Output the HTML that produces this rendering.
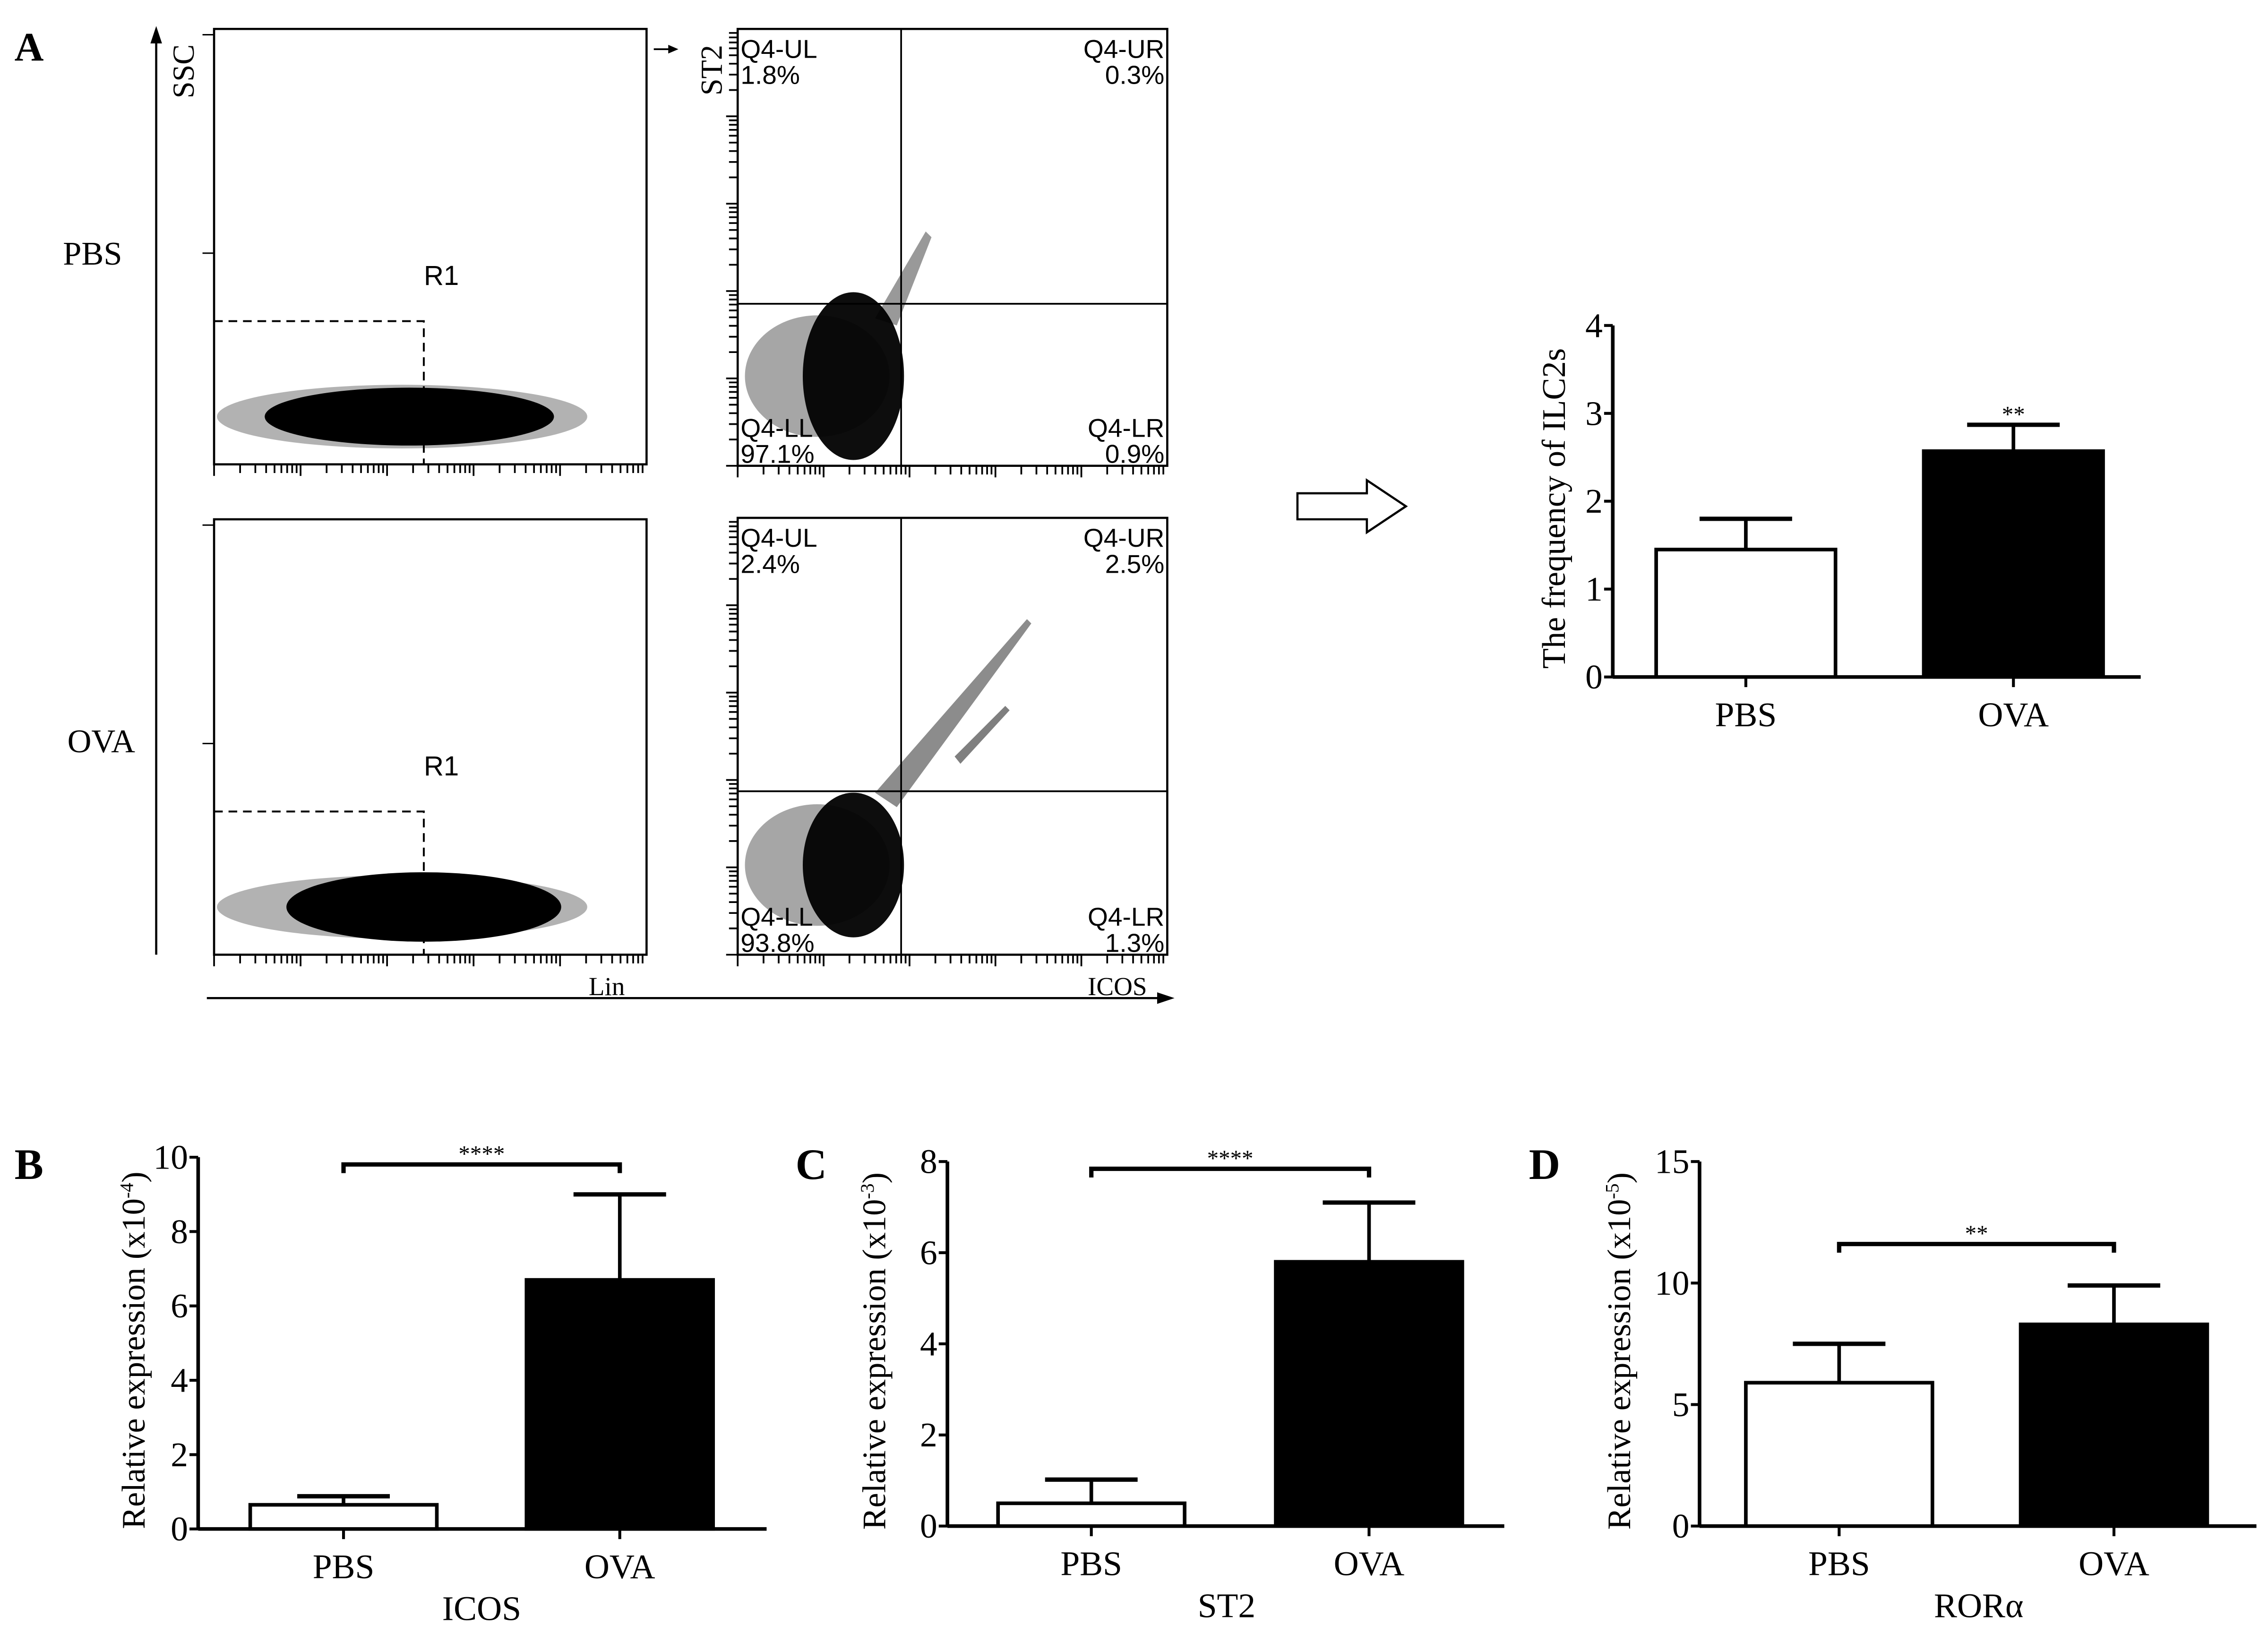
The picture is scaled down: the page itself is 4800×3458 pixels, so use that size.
<!DOCTYPE html>
<html><head><meta charset="utf-8"><style>
html,body{margin:0;padding:0;background:#fff;}
svg{display:block;}
text{font-family:"Liberation Serif",serif;fill:#000;}
.sans{font-family:"Liberation Sans",sans-serif;}
</style></head><body>
<svg id="fig" xmlns="http://www.w3.org/2000/svg" width="4800" height="3458" viewBox="0 0 1568 1129.6">
<rect width="1568" height="1129.6" fill="#fff"/>
<g id="panelA"></g>
<g id="charts"></g>
</svg>
<script>
// ---------- chart data ----------
const categories = ["PBS", "OVA"];
const ilcMeans = [1.45, 2.57];
const ilcErrors = [1.80, 2.87];
const icosMeans = [0.65, 6.7];
const icosErrors = [0.88, 9.0];
const st2Means = [0.5, 5.8];
const st2Errors = [1.02, 7.1];
const roraMeans = [5.9, 8.3];
const roraErrors = [7.5, 9.9];
const ilcTicks = [0, 1, 2, 3, 4];
const icosTicks = [0, 2, 4, 6, 8, 10];
const st2Ticks = [0, 2, 4, 6, 8];
const roraTicks = [0, 5, 10, 15];

const NS = "http://www.w3.org/2000/svg";
function mk(parent, tag, attrs, txt) {
  const e = document.createElementNS(NS, tag);
  for (const k in attrs) e.setAttribute(k, attrs[k]);
  if (txt !== undefined) e.textContent = txt;
  parent.appendChild(e);
  return e;
}
const A = document.getElementById('panelA');
const C = document.getElementById('charts');

// ---------- panel A ----------
let t;
t = mk(A, 'text', {x: 10, y: 42, 'font-size': 28, 'font-weight': 'bold'}, 'A');


t = mk(A, 'text', {x: 64, y: 183, 'font-size': 23, 'text-anchor': 'middle'}, 'PBS');


t = mk(A, 'text', {x: 70, y: 520, 'font-size': 23, 'text-anchor': 'middle'}, 'OVA');


// SSC axis
let l = mk(A, 'line', {x1: 108, y1: 660, x2: 108, y2: 22, stroke: '#000', 'stroke-width': 1.5});


mk(A, 'path', {d: 'M104,30 L108,18 L112,30 Z', fill: '#000'});
t = mk(A, 'text', {x: 0, y: 0, 'font-size': 21, transform: 'translate(134,68) rotate(-90)'}, 'SSC');


// Lin/ICOS axis
l = mk(A, 'line', {x1: 143, y1: 690, x2: 808, y2: 690, stroke: '#000', 'stroke-width': 1.5});


mk(A, 'path', {d: 'M800,686 L812,690 L800,694 Z', fill: '#000'});
t = mk(A, 'text', {x: 407, y: 688, 'font-size': 18}, 'Lin');


t = mk(A, 'text', {x: 752, y: 688, 'font-size': 18}, 'ICOS');


t = mk(A, 'text', {x: 0, y: 0, 'font-size': 21, transform: 'translate(499,66) rotate(-90)'}, 'ST2');


mk(A, 'line', {x1: 452, y1: 34, x2: 466, y2: 34, stroke: '#000', 'stroke-width': 1.2});
mk(A, 'path', {d: 'M462,31 L469,34 L462,37 Z', fill: '#000'});

function logTicks(g, x0, x1, y) {
  const dec = (x1 - x0) / 5;
  for (let d = 0; d < 5; d++) {
    for (let k = 1; k <= 9; k++) {
      const x = x0 + d * dec + Math.log10(k) * dec;
      mk(g, 'line', {x1: x, y1: y, x2: x, y2: y + (k === 1 ? 8 : 6), stroke: '#000', 'stroke-width': 1.2});
    }
  }
}
function yLogTicks(g, x, y0, y1) {
  const dec = (y1 - y0) / 5;
  for (let d = 0; d < 5; d++) {
    for (let k = 1; k <= 9; k++) {
      const y = y1 - d * dec - Math.log10(k) * dec;
      mk(g, 'line', {x1: x - (k === 1 ? 8 : 6), y1: y, x2: x, y2: y, stroke: '#000', 'stroke-width': 1.2});
    }
  }
}

function scatterPlot(x0, y0, name, ova) {
  const g = mk(A, 'g', {});
  
  
  const w = 299, h = 301;
  mk(g, 'rect', {x: x0, y: y0, width: w, height: h, fill: 'none', stroke: '#000', 'stroke-width': 1.5});
  logTicks(g, x0, x0 + w, y0 + h);
  mk(g, 'line', {x1: x0 - 8, y1: y0 + 155, x2: x0, y2: y0 + 155, stroke: '#000', 'stroke-width': 1});
  mk(g, 'line', {x1: x0 - 8, y1: y0 + 4, x2: x0, y2: y0 + 4, stroke: '#000', 'stroke-width': 1});
  // density blob
  mk(g, 'ellipse', {cx: x0 + 130, cy: y0 + 268, rx: 128, ry: 22, fill: '#000', opacity: 0.3});
  mk(g, 'ellipse', {cx: x0 + (ova ? 145 : 135), cy: y0 + 268, rx: ova ? 95 : 100, ry: ova ? 24 : 20, fill: '#000'});
  // gate
  mk(g, 'path', {d: `M${x0},${y0 + 202} L${x0 + 145},${y0 + 202} L${x0 + 145},${y0 + h}`, fill: 'none', stroke: '#000', 'stroke-width': 1.3, 'stroke-dasharray': '6,4'});
  const r = mk(g, 'text', {x: x0 + 145, y: y0 + 177, 'font-size': 19, class: 'sans'}, 'R1');
  
  
}
function quadPlot(x0, y0, name, labels, hy, ova) {
  const g = mk(A, 'g', {});
  
  
  const w = 297, h = 302;
  mk(g, 'rect', {x: x0, y: y0, width: w, height: h, fill: 'none', stroke: '#000', 'stroke-width': 1.5});
  logTicks(g, x0, x0 + w, y0 + h);
  yLogTicks(g, x0, y0, y0 + h);
  // blob
  mk(g, 'ellipse', {cx: x0 + 55, cy: y0 + 240, rx: 50, ry: 42, fill: '#000', opacity: 0.35});
  mk(g, 'ellipse', {cx: x0 + 80, cy: y0 + 240, rx: 35, ry: ova ? 50 : 58, fill: '#000', opacity: 0.95});
  if (ova) {
    mk(g, 'path', {d: `M${x0 + 95},${y0 + 190} L${x0 + 200},${y0 + 70} L${x0 + 203},${y0 + 73} L${x0 + 110},${y0 + 200} Z`, fill: '#000', opacity: 0.45});
    mk(g, 'path', {d: `M${x0 + 150},${y0 + 165} L${x0 + 185},${y0 + 130} L${x0 + 188},${y0 + 133} L${x0 + 154},${y0 + 170} Z`, fill: '#000', opacity: 0.5});
  } else {
    mk(g, 'path', {d: `M${x0 + 95},${y0 + 200} L${x0 + 130},${y0 + 140} L${x0 + 134},${y0 + 144} L${x0 + 110},${y0 + 205} Z`, fill: '#000', opacity: 0.4});
  }
  mk(g, 'line', {x1: x0 + 113, y1: y0, x2: x0 + 113, y2: y0 + h, stroke: '#000', 'stroke-width': 1.2});
  mk(g, 'line', {x1: x0, y1: y0 + hy, x2: x0 + w, y2: y0 + hy, stroke: '#000', 'stroke-width': 1.2});
  const pos = [[x0 + 2, y0 + 20, 'start'], [x0 + w - 2, y0 + 20, 'end'], [x0 + 2, y0 + 282, 'start'], [x0 + w - 2, y0 + 282, 'end']];
  const names = ['Q4-UL', 'Q4-UR', 'Q4-LL', 'Q4-LR'];
  for (let i = 0; i < 4; i++) {
    const tt = mk(g, 'text', {x: pos[i][0], y: pos[i][1], 'font-size': 18, class: 'sans', 'text-anchor': pos[i][2]}, names[i]);
    
    
    const tv = mk(g, 'text', {x: pos[i][0], y: pos[i][1] + 18, 'font-size': 18, class: 'sans', 'text-anchor': pos[i][2]}, labels[i]);
    
    
  }
}
scatterPlot(148, 20, 'pbs-lin-ssc-plot', false);
scatterPlot(148, 359, 'ova-lin-ssc-plot', true);
quadPlot(510, 20, 'pbs-icos-st2-plot', ['1.8%', '0.3%', '97.1%', '0.9%'], 190, false);
quadPlot(510, 358, 'ova-icos-st2-plot', ['2.4%', '2.5%', '93.8%', '1.3%'], 189, true);

// hollow arrow
const arr = mk(A, 'path', {d: 'M897,341 L945,341 L945,332 L972,350 L945,368 L945,359 L897,359 Z', fill: '#fff', stroke: '#000', 'stroke-width': 1.5});



// ---------- bar charts ----------
function barChart(o) {
  const g = mk(C, 'g', {});
  
  
  const y = v => o.y0 - (v - 0) / o.max * (o.y0 - o.y1);
  mk(g, 'line', {x1: o.ax, y1: o.y1, x2: o.ax, y2: o.y0, stroke: '#000', 'stroke-width': 2.5});
  mk(g, 'line', {x1: o.ax, y1: o.y0, x2: o.xEnd, y2: o.y0, stroke: '#000', 'stroke-width': 2.5});
  o.ticks.forEach(v => {
    mk(g, 'line', {x1: o.ax - 6, y1: y(v), x2: o.ax, y2: y(v), stroke: '#000', 'stroke-width': 2});
    const tl = mk(g, 'text', {x: o.ax - 7, y: y(v) + 8, 'font-size': 24, 'text-anchor': 'end'}, String(v));
    
    
  });
  o.means.forEach((m, i) => {
    const cx = o.bx[i] + o.bw / 2;
    const e = mk(g, 'line', {x1: cx, y1: y(m), x2: cx, y2: y(o.errs[i]), stroke: '#000', 'stroke-width': 2.5});
    
    
    mk(g, 'line', {x1: cx - o.cap, y1: y(o.errs[i]), x2: cx + o.cap, y2: y(o.errs[i]), stroke: '#000', 'stroke-width': 3});
    const b = mk(g, 'rect', {x: o.bx[i], y: y(m), width: o.bw, height: o.y0 - y(m), fill: i === 0 ? '#fff' : '#000', stroke: '#000', 'stroke-width': 2.5});
    
    
    mk(g, 'line', {x1: cx, y1: o.y0, x2: cx, y2: o.y0 + 7, stroke: '#000', 'stroke-width': 2});
    const xl = mk(g, 'text', {x: cx, y: o.y0 + 34, 'font-size': 24, 'text-anchor': 'middle'}, categories[i]);
    
    
  });
  const yt = mk(g, 'text', {x: 0, y: 0, 'font-size': 23, 'text-anchor': 'middle', transform: `translate(${o.titleX},${(o.y0 + o.y1) / 2 + 5}) rotate(-90)`});
  
  
  yt.appendChild(document.createTextNode(o.title));
  if (o.sup) {
    mk(yt, 'tspan', {'font-size': 13, dy: -8}, o.sup);
    mk(yt, 'tspan', {dy: 8}, ')');
  }
  if (o.gene) {
    const gl = mk(g, 'text', {x: o.geneX, y: o.y0 + 63, 'font-size': 24, 'text-anchor': 'middle'}, o.gene);
    
    
  }
  if (o.bracketY !== undefined) {
    const c0 = o.bx[0] + o.bw / 2, c1 = o.bx[1] + o.bw / 2;
    const br = mk(g, 'path', {d: `M${c0},${o.bracketY + 6} L${c0},${o.bracketY} L${c1},${o.bracketY} L${c1},${o.bracketY + 6}`, fill: 'none', stroke: '#000', 'stroke-width': 3});
    
    
    const st = mk(g, 'text', {x: (c0 + c1) / 2, y: o.bracketY - 2, 'font-size': 16, 'text-anchor': 'middle'}, o.stars);
    
    
  } else if (o.stars) {
    const c1 = o.bx[1] + o.bw / 2;
    const st = mk(g, 'text', {x: c1, y: y(o.errs[1]) - 2, 'font-size': 16, 'text-anchor': 'middle'}, o.stars);
    
    
  }
}
barChart({name: 'ilc2-frequency-chart', ax: 1115, xEnd: 1480, y0: 468, y1: 225, max: 4, ticks: ilcTicks, means: ilcMeans, errs: ilcErrors, bx: [1145, 1330], bw: 124, cap: 32, title: 'The frequency of ILC2s', titleX: 1082, stars: '**'});
barChart({name: 'icos-expression-chart', ax: 137, xEnd: 530, y0: 1057, y1: 800, max: 10, ticks: icosTicks, means: icosMeans, errs: icosErrors, bx: [173, 364], bw: 129, cap: 32, title: 'Relative expression (x10', sup: '-4', titleX: 100, gene: 'ICOS', geneX: 333, bracketY: 805, stars: '****'});
barChart({name: 'st2-expression-chart', ax: 655, xEnd: 1040, y0: 1055, y1: 803, max: 8, ticks: st2Ticks, means: st2Means, errs: st2Errors, bx: [690, 882], bw: 129, cap: 32, title: 'Relative expression (x10', sup: '-3', titleX: 612, gene: 'ST2', geneX: 848, bracketY: 808, stars: '****'});
barChart({name: 'rora-expression-chart', ax: 1175, xEnd: 1560, y0: 1055, y1: 803, max: 15, ticks: roraTicks, means: roraMeans, errs: roraErrors, bx: [1207, 1397], bw: 129, cap: 32, title: 'Relative expression (x10', sup: '-5', titleX: 1127, gene: 'RORα', geneX: 1368, bracketY: 860, stars: '**'});

const letters = [['B', 10, 815], ['C', 550, 815], ['D', 1057, 815]];
letters.forEach(L => {
  const e = mk(C, 'text', {x: L[1], y: L[2], 'font-size': 30, 'font-weight': 'bold'}, L[0]);
  
  
});
</script>
</body></html>
